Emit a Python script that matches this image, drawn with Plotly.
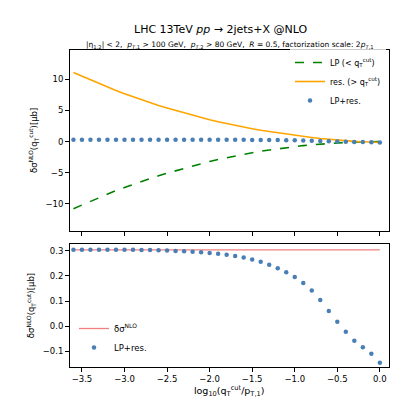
import plotly.graph_objects as go

x = [round(-3.6 + 0.1 * i, 1) for i in range(37)]
lp = [-10.8, -10.2, -9.6, -9.0, -8.4, -7.9, -7.4, -6.9, -6.4, -5.95, -5.5, -5.1, -4.7, -4.3, -3.9, -3.55,
      -3.2, -2.9, -2.6, -2.3, -2.05, -1.8, -1.55, -1.35, -1.15, -0.97, -0.8, -0.65, -0.52, -0.4, -0.3,
      -0.21, -0.14, -0.08, -0.04, -0.01, 0.0]
res = [11.1, 10.5, 9.9, 9.3, 8.7, 8.2, 7.7, 7.2, 6.7, 6.25, 5.8, 5.4, 5.0, 4.6, 4.2, 3.85, 3.5, 3.19,
       2.88, 2.58, 2.32, 2.07, 1.81, 1.6, 1.38, 1.19, 1.0, 0.82, 0.66, 0.5, 0.36, 0.23, 0.12, 0.02,
       -0.04, -0.1, -0.145]
lpres = [0.304, 0.304, 0.304, 0.304, 0.304, 0.304, 0.304, 0.304, 0.303, 0.303, 0.302, 0.301, 0.299,
         0.298, 0.296, 0.294, 0.291, 0.288, 0.284, 0.279, 0.273, 0.265, 0.256, 0.245, 0.231, 0.215,
         0.196, 0.172, 0.142, 0.104, 0.061, 0.018, -0.022, -0.058, -0.083, -0.109, -0.145]
nlo = 0.304
xticks = [-3.5, -3.0, -2.5, -2.0, -1.5, -1.0, -0.5, 0.0]

F = "DejaVu Sans"
blue = "#4a7fb5"
fig = go.Figure()
fig.add_trace(go.Scatter(x=x, y=lp, mode="lines", line=dict(color="green", dash="dash", width=1.6),
                         name="LP (< q<sub>T</sub><sup>cut</sup>)", xaxis="x", yaxis="y", legend="legend"))
fig.add_trace(go.Scatter(x=x, y=res, mode="lines", line=dict(color="orange", width=1.6),
                         name="res. (> q<sub>T</sub><sup>cut</sup>)", xaxis="x", yaxis="y", legend="legend"))
fig.add_trace(go.Scatter(x=x, y=lpres, mode="markers", marker=dict(color=blue, size=4.5),
                         name="LP+res.", xaxis="x", yaxis="y", legend="legend"))
fig.add_trace(go.Scatter(x=[x[0], x[-1]], y=[nlo, nlo], mode="lines", line=dict(color="#f08080", width=1.3),
                         name="δσ<sup>NLO</sup>", xaxis="x2", yaxis="y2", legend="legend2"))
fig.add_trace(go.Scatter(x=x, y=lpres, mode="markers", marker=dict(color=blue, size=4.5),
                         name="LP+res.", xaxis="x2", yaxis="y2", legend="legend2"))

ax = dict(showline=True, mirror=True, linecolor="black", linewidth=1, ticks="outside", ticklen=3.5,
          tickcolor="black", showgrid=False, zeroline=False, tickfont=dict(size=8.5, family=F))
fig.update_layout(
    width=400, height=400, margin=dict(l=0, r=0, t=0, b=0), plot_bgcolor="white", paper_bgcolor="white",
    font=dict(family=F, color="black"),
    xaxis=dict(ax, domain=[0.154, 0.952], range=[-3.645, 0.105], tickvals=xticks, showticklabels=False, anchor="y"),
    yaxis=dict(ax, domain=[0.4425, 0.896], range=[-14.4, 14.8], tickvals=[-10, -5, 0, 5, 10], anchor="x",
               title=dict(text="δσ<sup>NLO</sup>(q<sub>T</sub><sup>cut</sup>)[μb]", font=dict(size=8.5), standoff=6)),
    xaxis2=dict(ax, domain=[0.154, 0.952], range=[-3.645, 0.105], tickvals=xticks, anchor="y2",
                tickformat=".1f",
                title=dict(text="log<sub>10</sub>(q<sub>T</sub><sup>cut</sup>/p<sub>T,1</sub>)", font=dict(size=9.5), standoff=4)),
    yaxis2=dict(ax, domain=[0.1025, 0.41], range=[-0.162, 0.327], tickvals=[-0.1, 0.0, 0.1, 0.2, 0.3],
                tickformat=".1f", anchor="x2",
                title=dict(text="δσ<sup>NLO</sup>(q<sub>T</sub><sup>cut</sup>)[μb]", font=dict(size=8.5), standoff=6)),
    legend=dict(x=0.945, y=0.9, xanchor="right", yanchor="top", bgcolor="rgba(255,255,255,0.8)",
                font=dict(size=8), tracegroupgap=0, itemsizing="trace"),
    legend2=dict(x=0.165, y=0.115, xanchor="left", yanchor="bottom", bgcolor="rgba(255,255,255,0.8)",
                 font=dict(size=8.5)),
    annotations=[
        dict(text="LHC 13TeV <i>pp</i> → 2jets+X @NLO", x=0.53, y=1 - 13 / 400, xref="paper", yref="paper",
             showarrow=False, font=dict(size=11)),
        dict(text="|η<sub>1,2</sub>| < 2,  <i>p</i><sub><i>T</i>,1</sub> > 100 GeV,  <i>p</i><sub><i>T</i>,2</sub> > 80 GeV,  <i>R</i> = 0.5, factorization scale: 2<i>p</i><sub><i>T</i>,1</sub>",
             x=0.555, y=1 - 30 / 400, xref="paper", yref="paper", showarrow=False, font=dict(size=7.5)),
    ],
)
fig.write_html("out.html")
